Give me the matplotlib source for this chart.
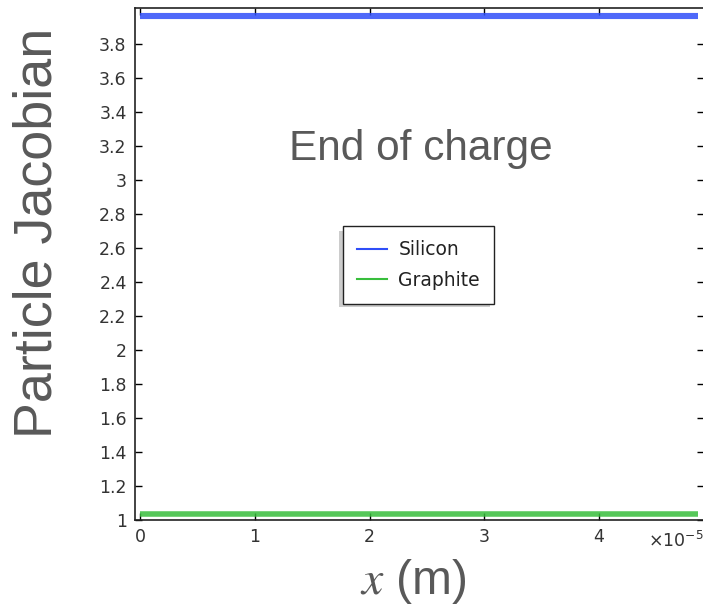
import numpy as np
import matplotlib
matplotlib.use('Agg')
import matplotlib.pyplot as plt
from matplotlib.patches import Rectangle

# Data (x in units of 1e-5 m)
x_pos = [0.0, 0.5, 1.0, 1.5, 2.0, 2.5, 3.0, 3.5, 4.0, 4.5, 4.86]
silicon = [3.966, 3.966, 3.966, 3.966, 3.966, 3.966, 3.966, 3.966, 3.966, 3.966, 3.966]
graphite = [1.037, 1.037, 1.037, 1.037, 1.037, 1.037, 1.037, 1.037, 1.037, 1.037, 1.037]

x_ticks = [0, 1, 2, 3, 4]
y_ticks = [1, 1.2, 1.4, 1.6, 1.8, 2, 2.2, 2.4, 2.6, 2.8, 3, 3.2, 3.4, 3.6, 3.8]
y_tick_labels = ['1', '1.2', '1.4', '1.6', '1.8', '2', '2.2', '2.4', '2.6',
                 '2.8', '3', '3.2', '3.4', '3.6', '3.8']

W, H = 703, 606
fig = plt.figure(figsize=(W / 100, H / 100), dpi=100)
ax = fig.add_axes([135 / W, 86 / H, 568.5 / W, 512 / H])

# Thick bands for the data, thin lines for the legend
ax.plot(x_pos, silicon, color='#2f4ef8', lw=4.4, alpha=0.85, solid_capstyle='butt')
ax.plot(x_pos, graphite, color='#38be3c', lw=4.0, alpha=0.85, solid_capstyle='butt')
ax.plot([], [], color='#2f4ef8', lw=1.5, label='Silicon')
ax.plot([], [], color='#38be3c', lw=1.5, label='Graphite')

ax.set_xlim(-0.044, 4.91)
ax.set_ylim(1.0, 4.012)

ax.set_xticks(x_ticks)
ax.set_xticklabels([str(t) for t in x_ticks])
ax.set_yticks(y_ticks)
ax.set_yticklabels(y_tick_labels)
ax.tick_params(direction='in', top=True, right=True, length=5, width=1,
               labelsize=12.5, labelcolor='#333333', pad=6)

for s in ax.spines.values():
    s.set_linewidth(1.2)
    s.set_color('#222222')

ax.text(0.503, 0.724, 'End of charge', transform=ax.transAxes, ha='center',
        va='center', fontsize=30.5, color='#595959', family='Liberation Sans')

fig.text(38 / W, 1 - 233 / H, 'Particle Jacobian', rotation=90, ha='center',
         va='center', fontsize=38.8, color='#595959', family='Liberation Sans')
fig.text(413 / W, 1 - 582 / H, r'$x$ (m)', ha='center', va='center',
         fontsize=34.5, color='#595959', family='Liberation Sans',
         math_fontfamily='stix')

fig.text(676 / W, 1 - 541 / H, r'$\times$10$^{-5}$', ha='center',
         va='center', fontsize=12.5, color='#333333')

# legend with a grey shadow offset to the lower left
shadow = Rectangle((339 / W, 1 - 307 / H), 151 / W, 76 / H,
                   transform=fig.transFigure, facecolor='#cccccc',
                   edgecolor='none', zorder=4, clip_on=False)
ax.add_patch(shadow)
leg = ax.legend(loc='center', frameon=True, fancybox=False, shadow=False,
                fontsize=13.5, handlelength=1.6, handletextpad=0.6,
                borderpad=0.75, labelspacing=0.6, framealpha=1,
                labelcolor='#222222')
leg.set_bbox_to_anchor(((343 + 494) / 2 / W, 1 - (227 + 303) / 2 / H),
                       transform=fig.transFigure)
leg.get_frame().set_edgecolor('#222222')
leg.get_frame().set_linewidth(1.0)
leg.set_zorder(5)

fig.savefig('out.png', dpi=100)
